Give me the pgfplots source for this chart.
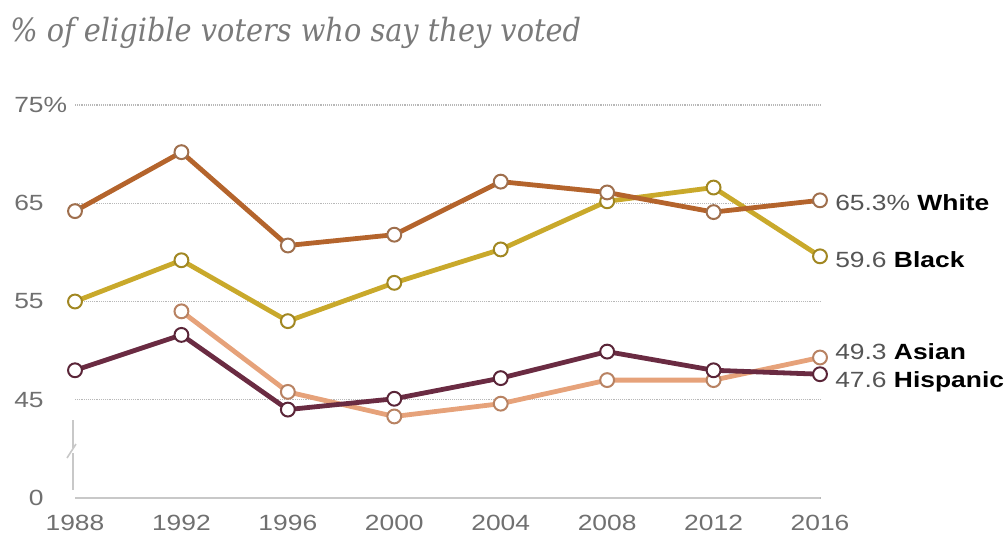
\documentclass[border=0pt]{standalone}
\usepackage{pgfplots}
\pgfplotsset{compat=1.18}
\usepackage{fontspec}
\setmainfont{Liberation Sans}[FakeStretch=1.2]
\newfontfamily\titlefont{DejaVu Serif}[FakeStretch=0.9]

\definecolor{cWhite}{HTML}{B4642C}
\definecolor{cBlack}{HTML}{C9A92B}
\definecolor{cHisp}{HTML}{6A2B42}
\definecolor{cAsian}{HTML}{E6A27A}
\definecolor{titlegray}{HTML}{7A7A7A}
\definecolor{labelgray}{HTML}{707070}
\definecolor{valgray}{HTML}{555555}
\definecolor{gridgray}{HTML}{B8B8B8}
\definecolor{axisgray}{HTML}{C8C8C8}

\begin{document}
\begin{tikzpicture}
\useasboundingbox (0,0) rectangle (754.5pt,405pt);
\node[anchor=base west, inner sep=0, text=titlegray, font=\titlefont\itshape\fontsize{24}{28}\selectfont] at (7.5pt,373.5pt) {\% of eligible voters who say they voted};

\begin{axis}[
  at={(56.25pt,31.5pt)}, anchor=south west,
  scale only axis, width=558.75pt, height=294.75pt,
  xmin=1988, xmax=2016, ymin=35, ymax=75,
  clip=false,
  axis line style={draw=none},
  xtick={1988,1992,1996,2000,2004,2008,2012,2016},
  xticklabels={1988,1992,1996,2000,2004,2008,2012,2016},
  ytick={35,45,55,65,75},
  yticklabels={0,45,55,65,75\rlap{\%}},
  major tick length=0pt,
  ymajorgrids,
  major grid style={densely dotted, draw=gridgray, line width=0.8pt},
  tick label style={font=\fontsize{16.5}{18}\selectfont, text=labelgray},
  yticklabel style={anchor=east, xshift=-20pt},
  xticklabel style={anchor=north, yshift=-9.5pt},
  every axis plot/.append style={line width=3.6pt, mark=*, mark size=5.2pt},
]
\draw[axisgray, line width=1.2pt] (axis cs:1988,35) -- (axis cs:2016,35);

\addplot[cAsian, mark options={fill=white, draw=cAsian!80!black, line width=1.5pt}] coordinates {
(1992,54.0) (1996,45.8) (2000,43.3) (2004,44.6) (2008,47.0) (2012,47.0) (2016,49.3)};
\addplot[cHisp, mark options={fill=white, draw=cHisp!85!black, line width=1.5pt}] coordinates {
(1988,48.0) (1992,51.6) (1996,44.0) (2000,45.1) (2004,47.2) (2008,49.9) (2012,48.0) (2016,47.6)};
\addplot[cBlack, mark options={fill=white, draw=cBlack!80!black, line width=1.5pt}] coordinates {
(1988,55.0) (1992,59.2) (1996,53.0) (2000,56.9) (2004,60.3) (2008,65.2) (2012,66.6) (2016,59.6)};
\addplot[cWhite, mark options={fill=white, draw=cWhite!60!gray, line width=1.5pt}] coordinates {
(1988,64.2) (1992,70.2) (1996,60.7) (2000,61.8) (2004,67.2) (2008,66.1) (2012,64.1) (2016,65.3)};

\node[anchor=base west, inner sep=0, xshift=11.25pt, font=\fontsize{16.5}{18}\selectfont] at (axis cs:2016,64.29) {\textcolor{valgray}{65.3\%} \textbf{White}};
\node[anchor=base west, inner sep=0, xshift=11.25pt, font=\fontsize{16.5}{18}\selectfont] at (axis cs:2016,58.46) {\textcolor{valgray}{59.6} \textbf{Black}};
\node[anchor=base west, inner sep=0, xshift=11.25pt, font=\fontsize{16.5}{18}\selectfont] at (axis cs:2016,49.07) {\textcolor{valgray}{49.3} \textbf{Asian}};
\node[anchor=base west, inner sep=0, xshift=11.25pt, font=\fontsize{16.5}{18}\selectfont] at (axis cs:2016,46.22) {\textcolor{valgray}{47.6} \textbf{Hispanic}};
\end{axis}

\draw[axisgray, line width=1.2pt] (54.75pt,90pt) -- (54.75pt,69pt);
\draw[axisgray, line width=1.2pt] (50.25pt,61.5pt) -- (57pt,72pt);
\draw[axisgray, line width=1.2pt] (54.75pt,65.25pt) -- (54.75pt,37.5pt);
\end{tikzpicture}
\end{document}
